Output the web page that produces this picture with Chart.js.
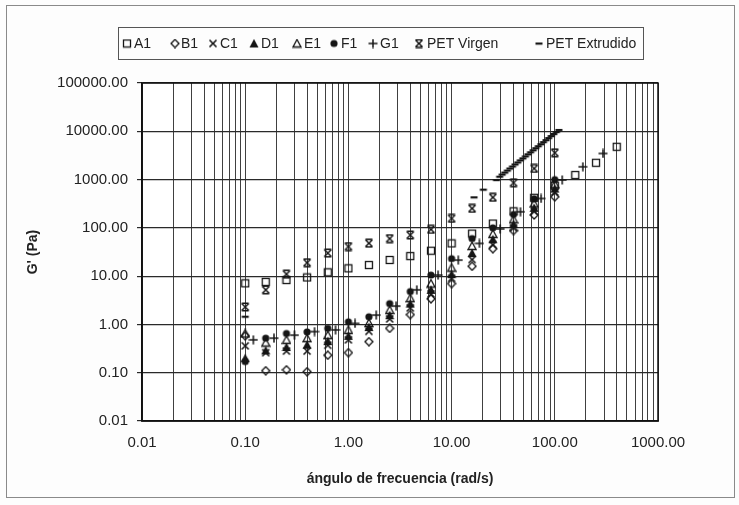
<!DOCTYPE html>
<html>
<head>
<meta charset="utf-8">
<script src="https://cdn.jsdelivr.net/npm/chart.js@4"></script>
<style>
  html, body { margin: 0; padding: 0; background: #ffffff; }
  #c { display: block; }
</style>
</head>
<body>
<canvas id="c" width="739" height="505"></canvas>
<script>
// Frequency sweep, rad/s (5 points per decade)
const freq = [0.1, 0.158, 0.251, 0.398, 0.631, 1, 1.58, 2.51, 3.98, 6.31, 10, 15.8, 25.1, 39.8, 63.1, 100];
const freqA1 = [0.1, 0.158, 0.251, 0.398, 0.631, 1, 1.58, 2.51, 3.98, 6.31, 10, 15.8, 25.1, 39.8, 63.1, 100, 158, 251, 398];
const freqG1 = [0.12, 0.19, 0.30, 0.47, 0.75, 1.16, 1.86, 2.9, 4.6, 7.4, 11.6, 18.6, 29.5, 46.5, 73.7, 118, 187, 293];
const freqPETV = [0.1, 0.158, 0.251, 0.398, 0.631, 1, 1.58, 2.51, 3.98, 6.31, 10, 15.8, 25.1, 39.8, 63.1, 100];
const freqPETE = [0.1, 16.5, 20.3, 27.2, 29.2, 30.9, 32.7, 34.7, 36.7, 38.9, 41.2, 43.7, 46.2, 49.0, 51.9, 55.0,
                  58.2, 61.7, 65.3, 69.2, 73.3, 77.6, 82.2, 87.1, 92.3, 97.7, 103.5, 109.6];

// Storage modulus G' (Pa)
const gA1 = [7.1, 7.6, 8.3, 9.4, 12, 14.5, 17, 21.6, 26, 33.6, 47.6, 76, 123, 220, 420, 750, 1240, 2230, 4770];
const gB1 = [0.58, 0.11, 0.115, 0.105, 0.23, 0.26, 0.44, 0.83, 1.6, 3.4, 7, 16, 37, 88, 185, 440];
const gC1 = [0.36, 0.26, 0.28, 0.28, 0.37, 0.48, 0.72, 1.3, 2.2, 4.3, 9, 22, 45, 100, 220, 550];
const gD1 = [0.2, 0.29, 0.34, 0.38, 0.45, 0.58, 0.88, 1.55, 2.7, 5.2, 11, 30, 58, 120, 260, 650];
const gE1 = [0.65, 0.42, 0.48, 0.52, 0.6, 0.77, 1.07, 2.0, 3.5, 7, 15, 42, 75, 150, 320, 800];
const gF1 = [0.17, 0.52, 0.65, 0.7, 0.83, 1.13, 1.44, 2.7, 4.8, 10.5, 23, 60, 100, 190, 400, 1000];
const gG1 = [0.48, 0.52, 0.6, 0.71, 0.77, 1.05, 1.56, 2.4, 5.2, 10.5, 21.5, 47.6, 95, 215, 406, 980, 1840, 3470];
const gPETV = [2.3, 5.2, 11, 19, 30, 41, 48, 60, 71, 93, 157, 253, 428, 860, 1700, 3590];
const gPETE = [1.45, 430, 620, 980, 1150, 1270, 1400, 1540, 1700, 1870, 2060, 2270, 2500, 2750, 3030, 3340,
               3680, 4060, 4470, 4920, 5420, 5970, 6580, 7250, 7980, 8790, 9680, 10670];

// Axis ticks
const xTickValues = [0.01, 0.1, 1, 10, 100, 1000];
const xTickLabels = ['0.01', '0.10', '1.00', '10.00', '100.00', '1000.00'];
const yTickValues = [0.01, 0.1, 1, 10, 100, 1000, 10000, 100000];
const yTickLabels = ['0.01', '0.10', '1.00', '10.00', '100.00', '1000.00', '10000.00', '100000.00'];

const seriesNames = ['A1', 'B1', 'C1', 'D1', 'E1', 'F1', 'G1', 'PET Virgen', 'PET Extrudido'];

// ---- marker glyphs ----
const INK = '#151515';
function glyph(size, paint) {
  const c = document.createElement('canvas');
  c.width = size; c.height = size;
  const g = c.getContext('2d');
  g.strokeStyle = INK; g.fillStyle = INK; g.lineWidth = 1.3;
  paint(g, size);
  return c;
}
const markers = {
  square: glyph(10, g => { g.strokeRect(1.5, 1.5, 7, 7); }),
  diamond: glyph(10, g => { g.beginPath(); g.moveTo(5, 1); g.lineTo(9, 5); g.lineTo(5, 9); g.lineTo(1, 5); g.closePath(); g.stroke(); }),
  cross: glyph(10, g => { g.lineWidth = 1.6; g.beginPath(); g.moveTo(1.5, 1.5); g.lineTo(8.5, 8.5); g.moveTo(8.5, 1.5); g.lineTo(1.5, 8.5); g.stroke(); }),
  triFill: glyph(10, g => { g.beginPath(); g.moveTo(5, 0.5); g.lineTo(9.5, 9); g.lineTo(0.5, 9); g.closePath(); g.fill(); }),
  triOpen: glyph(10, g => { g.beginPath(); g.moveTo(5, 1); g.lineTo(9, 8.5); g.lineTo(1, 8.5); g.closePath(); g.stroke(); }),
  dot: glyph(10, g => { g.beginPath(); g.arc(5, 5, 3.6, 0, Math.PI * 2); g.fill(); }),
  plus: glyph(10, g => { g.lineWidth = 1.5; g.beginPath(); g.moveTo(5, 0.5); g.lineTo(5, 9.5); g.moveTo(0.5, 5); g.lineTo(9.5, 5); g.stroke(); }),
  hourglass: glyph(10, g => { g.lineWidth = 1.5; g.beginPath(); g.moveTo(1.5, 1.5); g.lineTo(8.5, 8.5); g.moveTo(8.5, 1.5); g.lineTo(1.5, 8.5); g.moveTo(1.5, 1.2); g.lineTo(8.5, 1.2); g.moveTo(1.5, 8.8); g.lineTo(8.5, 8.8); g.stroke(); }),
  dash: glyph(10, g => { g.fillRect(1.5, 4, 7, 2.2); })
};

const seriesX = [freqA1, freq, freq, freq, freq, freq, freqG1, freqPETV, freqPETE];
const seriesY = [gA1, gB1, gC1, gD1, gE1, gF1, gG1, gPETV, gPETE];
const seriesMarker = [markers.square, markers.diamond, markers.cross, markers.triFill, markers.triOpen, markers.dot, markers.plus, markers.hourglass, markers.dash];

const datasets = seriesNames.map((name, i) => ({
  label: name,
  data: seriesX[i].map((x, j) => ({ x: x, y: seriesY[i][j] })),
  pointStyle: seriesMarker[i],
  pointRadius: 4,
  pointHoverRadius: 4,
  showLine: false,
  borderColor: INK,
  backgroundColor: INK
}));

// x grid: every 1..9 multiple of each decade
const xGrid = [];
for (let d = 0; d < xTickValues.length - 1; d++) {
  for (let k = 1; k <= 9; k++) xGrid.push(xTickValues[d] * k);
}
xGrid.push(xTickValues[xTickValues.length - 1]);

// legend placement (marker centre, text start)
const legendMarkerX = [127, 175, 213, 254, 297, 334, 373, 419, 539];
const legendTextX = [134, 181, 220, 261, 304, 341, 380, 427, 546];

const framePlugin = {
  id: 'frame',
  beforeDraw(chart) {
    const { ctx, chartArea: a } = chart;
    ctx.save();
    ctx.fillStyle = '#fdfdfd';
    ctx.fillRect(0, 0, chart.width, chart.height);
    ctx.fillStyle = '#ffffff';
    ctx.fillRect(a.left, a.top, a.right - a.left, a.bottom - a.top);
    // outer chart border
    ctx.strokeStyle = '#8a8a8a';
    ctx.lineWidth = 1;
    ctx.strokeRect(6.5, 5.5, 728, 492);
    ctx.restore();
  },
  beforeDatasetsDraw(chart) {
    const { ctx, chartArea: a } = chart;
    ctx.save();
    ctx.strokeStyle = '#111';
    ctx.lineWidth = 1.5;
    ctx.strokeRect(a.left, a.top, a.right - a.left, a.bottom - a.top);
    ctx.restore();
  },
  afterDraw(chart) {
    const { ctx } = chart;
    ctx.save();
    ctx.strokeStyle = '#555';
    ctx.lineWidth = 1;
    ctx.strokeRect(118.5, 27.5, 525, 32);
    ctx.font = '14px "Liberation Sans", Arial, sans-serif';
    ctx.fillStyle = '#222';
    ctx.textBaseline = 'middle';
    const cy = 43.5;
    chart.data.datasets.forEach((ds, i) => {
      const m = ds.pointStyle;
      ctx.drawImage(m, legendMarkerX[i] - m.width / 2, cy - m.height / 2);
      ctx.fillText(ds.label, legendTextX[i], cy + 1);
    });
    ctx.restore();
  }
};

Chart.defaults.font.family = '"Liberation Sans", Arial, sans-serif';
Chart.defaults.color = '#222';

new Chart(document.getElementById('c'), {
  type: 'scatter',
  data: { datasets: datasets },
  options: {
    responsive: false,
    animation: false,
    events: [],
    layout: { padding: { left: 0, right: 81, top: 83, bottom: 0 } },
    plugins: { legend: { display: false }, tooltip: { enabled: false } },
    scales: {
      x: {
        type: 'logarithmic',
        min: 0.01,
        max: 1000,
        afterBuildTicks: s => { s.ticks = xGrid.map(v => ({ value: v })); },
        afterFit: s => { s.height = 84; },
        ticks: {
          autoSkip: false,
          maxRotation: 0,
          padding: 13,
          font: { size: 15 },
          color: '#222',
          callback: v => { const i = xTickValues.indexOf(v); return i >= 0 ? xTickLabels[i] : ''; }
        },
        grid: { color: '#404040', lineWidth: 1, drawTicks: false },
        border: { color: '#111', width: 1.5 },
        title: {
          display: true,
          text: 'ángulo de frecuencia (rad/s)',
          font: { size: 14, weight: 'bold' },
          color: '#222',
          padding: { top: 0, bottom: 17 }
        }
      },
      y: {
        type: 'logarithmic',
        min: 0.01,
        max: 100000,
        afterBuildTicks: s => { s.ticks = yTickValues.map(v => ({ value: v })); },
        afterFit: s => { s.width = 142; },
        ticks: {
          autoSkip: false,
          padding: 9,
          font: { size: 15 },
          color: '#222',
          callback: v => { const i = yTickValues.indexOf(v); return i >= 0 ? yTickLabels[i] : ''; }
        },
        grid: { color: '#2a2a2a', lineWidth: 1.2, drawTicks: true, tickLength: 5 },
        border: { color: '#111', width: 1.5 },
        title: {
          display: true,
          text: "G' (Pa)",
          font: { size: 14, weight: 'bold' },
          color: '#222',
          padding: { top: 25, bottom: 0 }
        }
      }
    }
  },
  plugins: [framePlugin]
});
</script>
</body>
</html>
